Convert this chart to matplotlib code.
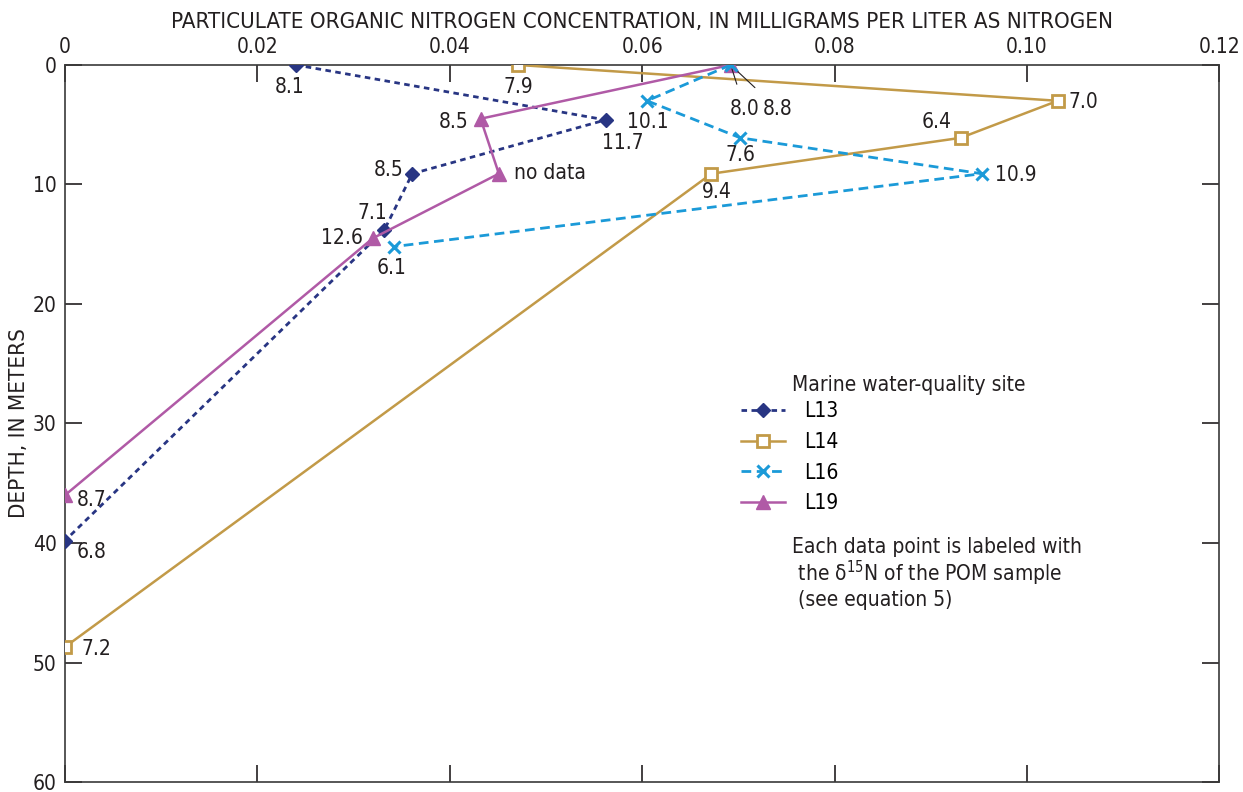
import matplotlib
matplotlib.use('Agg')
import matplotlib.pyplot as plt

plt.rcParams['font.family'] = ['DejaVu Sans']
plt.rcParams['font.stretch'] = 'condensed'
plt.rcParams['mathtext.fontset'] = 'dejavusans'

# data: concentration (mg/L as N) vs depth (m), with d15N labels
l13_x = [0.024, 0.0562, 0.0361, 0.0332, 0.0]
l13_y = [0.0, 4.6, 9.1, 13.8, 39.8]
l13_lab = ['8.1', '11.7', '8.5', '7.1', '6.8']

l14_x = [0.0471, 0.1032, 0.0931, 0.0672, 0.0]
l14_y = [0.0, 3.0, 6.1, 9.1, 48.7]
l14_lab = ['7.9', '7.0', '6.4', '9.4', '7.2']

l16_x = [0.0692, 0.0605, 0.0702, 0.0953, 0.0342]
l16_y = [0.0, 3.0, 6.1, 9.1, 15.2]
l16_lab = ['8.0', '10.1', '7.6', '10.9', '6.1']

l19_x = [0.0692, 0.0432, 0.0451, 0.0320, 0.0]
l19_y = [0.0, 4.5, 9.1, 14.5, 36.0]
l19_lab = ['8.8', '8.5', 'no data', '12.6', '8.7']

# label offsets in pixels (dx, dy), None -> leader line label
off13 = [(-6, -22), (17, -23), (-24, 4), (-12, 17), (27, -11)]
off14 = [(0, -22), (26, -1), (-24, 16), (5, -18), (31, -2)]
off16 = [None, (1, -21), (0, -17), (34, -1), (-2, -21)]
off19 = [None, (-27, -3), ('left', 15, 1), (-31, 0), (27, -5)]

c13 = '#283583'
c14 = '#c29a48'
c16 = '#1b9ad8'
c19 = '#b05aa6'
tc = '#231f20'

fig = plt.figure(figsize=(12.43, 7.92), dpi=100)
ax = fig.add_axes([0.0523, 0.0126, 0.9287, 0.9054])

ax.plot(l13_x, l13_y, color=c13, ls=(0, (2, 1.6)), lw=2, marker='D', ms=7,
        label='L13', zorder=3)
ax.plot(l14_x, l14_y, color=c14, ls='-', lw=1.8, marker='s', ms=8,
        mfc='white', mew=2, label='L14', zorder=3)
ax.plot(l16_x, l16_y, color=c16, ls=(0, (3.5, 2)), lw=2, marker='x', ms=9,
        mew=2.2, label='L16', zorder=4)
ax.plot(l19_x, l19_y, color=c19, ls='-', lw=1.8, marker='^', ms=10,
        label='L19', zorder=3)

fs = 15
for xs, ys, labs, offs in [(l13_x, l13_y, l13_lab, off13),
                           (l14_x, l14_y, l14_lab, off14),
                           (l16_x, l16_y, l16_lab, off16),
                           (l19_x, l19_y, l19_lab, off19)]:
    for x, y, t, o in zip(xs, ys, labs, offs):
        if o is None:
            continue
        if o[0] == 'left':
            ax.annotate(t, (x, y), xytext=(o[1], o[2]), textcoords='offset pixels',
                        ha='left', va='center', fontsize=fs, color=tc)
        else:
            ax.annotate(t, (x, y), xytext=o, textcoords='offset pixels',
                        ha='center', va='center', fontsize=fs, color=tc)

# leader-line labels at the shared surface point
ax.annotate(l16_lab[0], (l16_x[0], l16_y[0]), xytext=(14, -44),
            textcoords='offset pixels', ha='center', va='center', fontsize=fs,
            color=tc,
            arrowprops=dict(arrowstyle='-', color=tc, lw=0.8,
                            shrinkA=9, shrinkB=3))
ax.annotate(l19_lab[0], (l19_x[0], l19_y[0]), xytext=(47, -44),
            textcoords='offset pixels', ha='center', va='center', fontsize=fs,
            color=tc,
            arrowprops=dict(arrowstyle='-', color=tc, lw=0.8,
                            shrinkA=9, shrinkB=3))

ax.set_xlim(0, 0.12)
ax.set_ylim(60, 0)
xt = [0, 0.02, 0.04, 0.06, 0.08, 0.10, 0.12]
ax.set_xticks(xt)
ax.set_xticklabels(['0'] + ['%.2f' % v for v in xt[1:]])
ax.set_yticks(range(0, 61, 10))
ax.xaxis.tick_top()
ax.xaxis.set_label_position('top')
ax.tick_params(axis='both', which='both', direction='in', length=12, width=1.2,
               labelsize=fs, colors=tc, top=True, bottom=True,
               left=True, right=True, pad=6)
for s in ax.spines.values():
    s.set_linewidth(1.2)
    s.set_color('#3a3a3a')

ax.set_xlabel('PARTICULATE ORGANIC NITROGEN CONCENTRATION, IN MILLIGRAMS PER LITER AS NITROGEN',
              fontsize=16, color=tc, labelpad=6)
ax.set_ylabel('DEPTH, IN METERS', fontsize=16, color=tc, labelpad=3)

leg = ax.legend(loc='upper left', bbox_to_anchor=(0.5785, 0.543), frameon=False,
                fontsize=fs, handlelength=2.1, labelspacing=0.52,
                handletextpad=0.9, borderaxespad=0)

ax.text(0.63, 0.553, 'Marine water-quality site', transform=ax.transAxes,
        ha='left', va='center', fontsize=fs, color=tc)

ax.text(0.63, 0.342,
        'Each data point is labeled with\n the δ$^{15}$N of the POM sample\n (see equation 5)',
        transform=ax.transAxes, ha='left', va='top', fontsize=fs,
        color=tc, linespacing=1.1)

fig.savefig('out.png', dpi=100)
